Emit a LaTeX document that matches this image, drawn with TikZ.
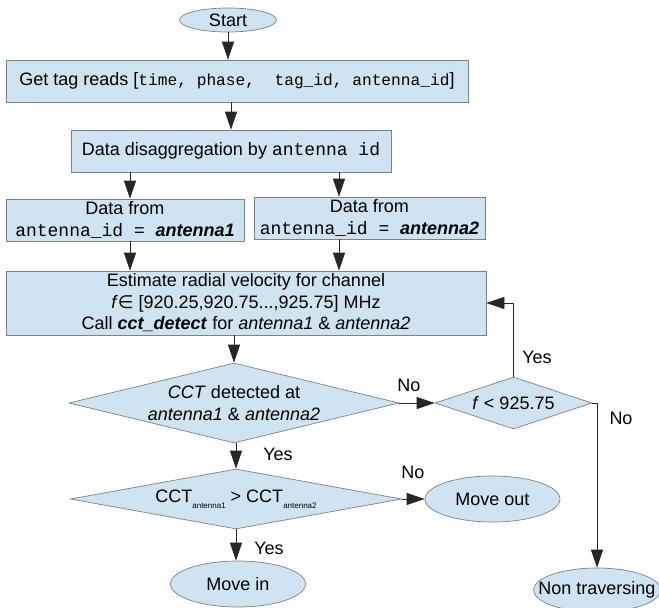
\documentclass[tikz,border=0pt]{standalone}
\usepackage{fontspec}
\setmainfont{Liberation Sans}
\setmonofont{Liberation Mono}
\newfontfamily\symbolfont{DejaVu Sans}
\usetikzlibrary{shapes.geometric,arrows.meta}
\definecolor{cellblue}{RGB}{207,228,243}
\definecolor{edgegray}{RGB}{128,128,128}
\newcommand{\antsub}[1]{\raisebox{-0.6ex}{\fontsize{8}{8}\selectfont #1}}

\begin{document}
\begin{tikzpicture}[x=1pt,y=-1pt,font=\fontsize{18}{21.5}\selectfont,
        proc/.style={draw=edgegray,fill=cellblue,line width=0.7pt,align=center,inner sep=0pt},
        term/.style={ellipse,draw=edgegray,fill=cellblue,line width=0.7pt,inner xsep=-15pt,inner ysep=0pt},
        decide/.style={diamond,draw=edgegray,fill=cellblue,line width=0.7pt,align=center,inner sep=-4pt},
        flow/.style={draw=black!85,line width=0.7pt,-{Triangle[length=18pt,width=12pt]}},
        lbl/.style={inner sep=0pt}]
    \useasboundingbox (0,0) rectangle (659,608);
    \node[term,minimum width=97,minimum height=24] (start) at (228,20) {Start};
    \node[proc,minimum width=462,minimum height=42] (reads) at (237,81)
        {Get tag reads [{\fontsize{16.2}{20}\selectfont\texttt{time, phase,\ \ tag\_id, antenna\_id}}]};
    \node[proc,minimum width=320,minimum height=42] (split) at (231,151)
        {Data disaggregation by \texttt{antenna id}};
    \node[proc,minimum width=238,minimum height=42] (antA) at (125,220)
        {Data from\\\texttt{antenna\_id = }\textbf{\textit{antenna1}}};
    \node[proc,minimum width=231,minimum height=42] (antB) at (369.5,218)
        {Data from\\\texttt{antenna\_id = }\textbf{\textit{antenna2}}};
    \node[proc,minimum width=480,minimum height=64] (radial) at (246,303)
        {Estimate radial velocity for channel\\
         \textit{f}{\symbolfont ∈} [920.25,920.75...,925.75] MHz\\
         Call \textbf{\textit{cct\_detect}} for \textit{antenna1} \& \textit{antenna2}};
    \node[decide,aspect=4.2,minimum width=330,minimum height=80] (detect) at (234,403)
        {\textit{CCT} detected at\\\textit{antenna1} \& \textit{antenna2}};
    \node[decide,aspect=3,minimum width=157,minimum height=52] (fcheck) at (513.5,403)
        {\textit{f} < 925.75};
    \node[decide,aspect=5.5,minimum width=331,minimum height=60] (compare) at (236,499)
        {CCT\antsub{antenna1} > CCT\antsub{antenna2}};
    \node[term,minimum width=135,minimum height=46] (movein) at (238,584) {Move in};
    \node[term,minimum width=135,minimum height=46] (moveout) at (492.5,499) {Move out};
    \node[term,minimum width=127,minimum height=44] (nontrav) at (597,590) {Non traversing};

    \coordinate (colA) at (130,0);
    \coordinate (colB) at (339,0);
    \draw[flow] (start) -- (start |- reads.north);
    \draw[flow] (split |- reads.south) -- (split.north);
    \draw[flow] (colA |- split.south) -- (colA |- antA.north);
    \draw[flow] (colB |- split.south) -- (colB |- antB.north);
    \draw[flow] (colA |- antA.south) -- (colA |- radial.north);
    \draw[flow] (colB |- antB.south) -- (colB |- radial.north);
    \draw[flow] (detect |- radial.south) -- (detect.north);
    \draw[flow] (detect.east) -- (fcheck.west);
    \draw[flow] (fcheck.north) |- (radial.east);
    \draw[flow] (fcheck.east) -| (nontrav.north);
    \draw[flow] (compare |- detect.south) -- (compare.north);
    \draw[flow] (compare.east) -- (moveout.west);
    \draw[flow] (compare.south) -- (compare.south |- movein.north);

    \node[lbl] (noA) at (409,385) {No};
    \node[lbl] (yesA) at (537,357) {Yes};
    \node[lbl] (noB) at (621,418) {No};
    \node[lbl] (yesB) at (278,454) {Yes};
    \node[lbl] (noC) at (413,472) {No};
    \node[lbl] (yesC) at (269,548) {Yes};
\end{tikzpicture}
\end{document}
